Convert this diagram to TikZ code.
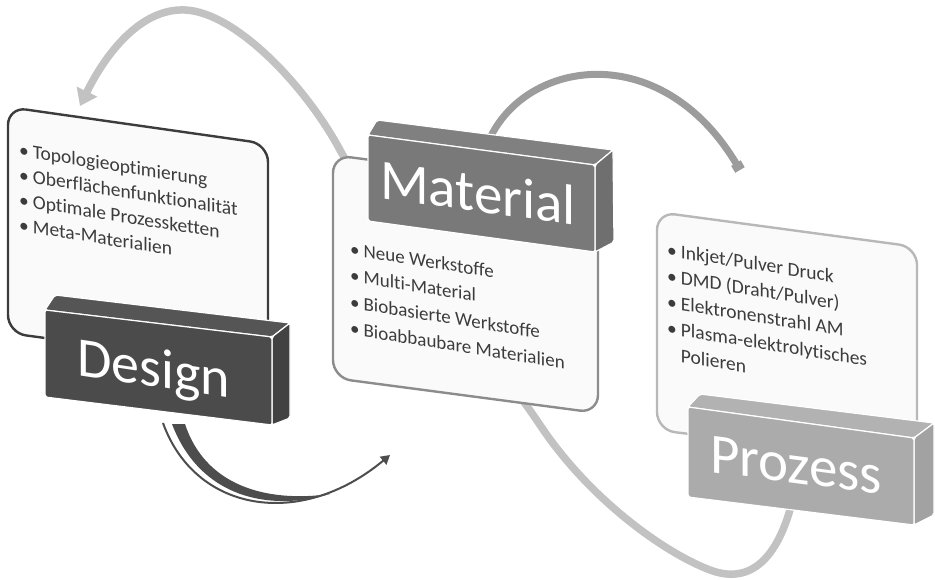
\documentclass[tikz,border=0pt]{standalone}
\usepackage{fontspec}
\setmainfont{Carlito}[Ligatures=NoCommon]
\usetikzlibrary{arrows.meta}
\definecolor{dfront}{HTML}{4B4B4B}
\definecolor{dtop}{HTML}{555555}
\definecolor{dside}{HTML}{424242}
\definecolor{mfront}{HTML}{797979}
\definecolor{mtop}{HTML}{808080}
\definecolor{mside}{HTML}{6F6F6F}
\definecolor{pfront}{HTML}{ABABAB}
\definecolor{ptop}{HTML}{B2B2B2}
\definecolor{pside}{HTML}{A2A2A2}
\definecolor{arcL}{HTML}{C2C2C2}
\definecolor{arcM}{HTML}{9C9C9C}
\definecolor{arcD}{HTML}{4D4D4D}
\definecolor{txt}{HTML}{3C3C3C}
\definecolor{cardfill}{HTML}{FAFAFA}
\definecolor{cardD}{HTML}{3C3C3C}
\definecolor{cardM}{HTML}{8C8C8C}
\definecolor{cardP}{HTML}{B8B8B8}
\begin{document}
\begin{tikzpicture}[x=1pt,y=-1pt,
  card/.style={fill=cardfill, rounded corners=18pt, line width=2.4pt},
  face/.style={draw=white, line width=1.2pt, line join=round, rounded corners=2pt},
  lbl/.style={text=white, inner sep=0pt, anchor=base west},
  ctext/.style={text=txt, inner sep=0pt, anchor=base west, yslant=-0.16},
  bigarc/.style={draw=arcL, line width=7.5pt, -{Triangle[width=22pt,length=16pt]}},
  midarc/.style={draw=arcM, line width=7pt, -{Square[width=11pt,length=8pt]}},
  dkarc/.style={fill=arcD}
]
\useasboundingbox (0,0) rectangle (935,580);

% big light arc: Prozess -> Design
\coordinate (a1) at (795,490);
\coordinate (a2) at (80,106);
\draw[bigarc] (a1) .. controls (780,560) and (750,585) .. (710,570)
  .. controls (665,553) and (590,500) .. (540,425)
  .. controls (490,350) and (390,240) .. (340,150)
  .. controls (305,85) and (235,12) .. (185,10)
  .. controls (140,8) and (105,55) .. (a2);

% cards
\draw[card, draw=cardD] (8,107) -- (268,144) -- (268,368) -- (8,333) -- cycle;
\draw[card, draw=cardM] (333,155) -- (598,190) -- (598,413) -- (333,378) -- cycle;
\draw[card, draw=cardP] (657,212) -- (917,247) -- (917,462) -- (657,430) -- cycle;

% card texts
\node[ctext] (dtext) at (19,156) {\fontsize{19.5}{25}\selectfont
  \begin{tabular}[t]{@{}l@{\hspace{4pt}}l@{}}
  • & Topologieoptimierung\\
  • & Oberflächenfunktionalität\\
  • & Optimale Prozessketten\\
  • & Meta-Materialien
  \end{tabular}};
\node[ctext] (mtext) at (350,255) {\fontsize{19}{26.5}\selectfont
  \begin{tabular}[t]{@{}l@{\hspace{4pt}}l@{}}
  • & Neue Werkstoffe\\
  • & Multi-Material\\
  • & Biobasierte Werkstoffe\\
  • & Bioabbaubare Materialien
  \end{tabular}};
\node[ctext] (ptext) at (667,256) {\fontsize{19.5}{26}\selectfont
  \begin{tabular}[t]{@{}l@{\hspace{4pt}}l@{}}
  • & Inkjet/Pulver Druck\\
  • & DMD (Draht/Pulver)\\
  • & Elektronenstrahl AM\\
  • & Plasma-elektrolytisches\\
    & Polieren
  \end{tabular}};

% Design -> Material arrow (ribbon)
\coordinate (d1) at (163,423);
\coordinate (d2) at (390,455);
\draw[arcD, line width=2pt, -{Triangle[width=10pt,length=9pt]}] (d1) .. controls (195,512) and (300,530) .. (d2);
\fill[dkarc] (172,424) .. controls (200,498) and (270,512) .. (330,494)
  .. controls (265,503) and (205,485) .. (185,424) -- cycle;

% Material -> Prozess arrow
\coordinate (m1) at (487,145);
\coordinate (m2) at (740,170);
\draw[midarc] (m1) .. controls (520,60) and (660,35) .. (m2);

% Design box
\filldraw[face, fill=dtop] (45,310) -- (55,295) -- (290,323) -- (272,337) -- cycle;
\filldraw[face, fill=dside] (272,337) -- (290,323) -- (290,418) -- (272,425) -- cycle;
\filldraw[face, fill=dfront] (45,310) -- (272,337) -- (272,425) -- (45,397) -- cycle;
\node[lbl, yslant=-0.15] (design) at (77,375) {\fontsize{56}{56}\selectfont Design};

% Material box
\filldraw[face, fill=mtop] (368,135) -- (377,120) -- (613,150) -- (595,165) -- cycle;
\filldraw[face, fill=mside] (595,165) -- (613,150) -- (614,242) -- (595,252) -- cycle;
\filldraw[face, fill=mfront] (368,135) -- (595,165) -- (595,252) -- (368,221) -- cycle;
\node[lbl, yslant=-0.14] (material) at (380,198) {\fontsize{57}{57}\selectfont Material};

% Prozess box
\filldraw[face, fill=ptop] (688,407) -- (700,394) -- (934,423) -- (914,438) -- cycle;
\filldraw[face, fill=pside] (914,438) -- (934,423) -- (934,515) -- (914,525) -- cycle;
\filldraw[face, fill=pfront] (688,407) -- (914,438) -- (914,525) -- (688,497) -- cycle;
\node[lbl, yslant=-0.13] (prozess) at (710,472) {\fontsize{57}{57}\selectfont Prozess};
\end{tikzpicture}
\end{document}
